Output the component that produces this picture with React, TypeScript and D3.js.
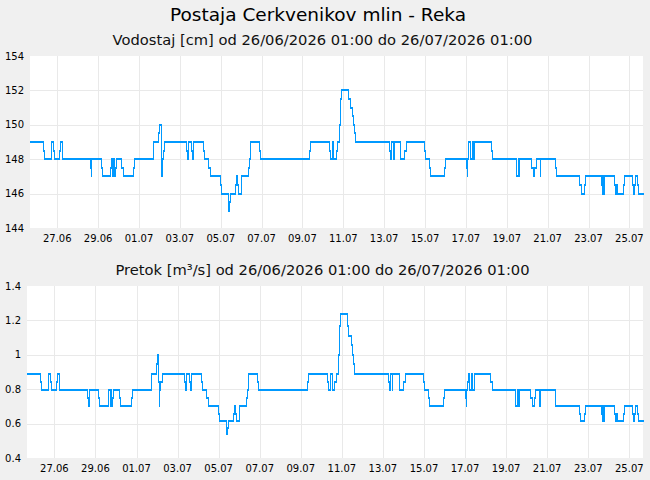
import { useEffect, useRef } from 'react';
import * as d3 from 'd3';

const TITLE = 'Postaja Cerkvenikov mlin - Reka';
const LEVEL_SUBTITLE = 'Vodostaj [cm] od 26/06/2026 01:00 do 26/07/2026 01:00';
const FLOW_SUBTITLE = 'Pretok [m³/s] od 26/06/2026 01:00 do 26/07/2026 01:00';

// hours since the first reading; each value holds until the next change
const changeHours = [
  0, 14.9, 16.1, 24.3, 25.0, 26.7, 27.8, 34.4, 35.6, 37.2,
  70.1, 71.3, 72.0, 83.4, 84.6, 94.3, 95.1, 96.7, 97.5, 98.3,
  99.5, 100.6, 107.2, 108.9, 121.3, 122.5, 144.8, 150.4, 151.9, 153.5,
  154.2, 154.7, 155.9, 157.8, 183.6, 184.8, 185.4, 189.1, 190.7, 191.8,
  203.6, 204.8, 209.1, 211.1, 223.5, 224.7, 232.2, 233.4, 234.6, 240.8,
  242.0, 243.5, 244.3, 247.5, 248.2, 256.1, 257.6, 258.8, 269.4, 270.5,
  327.7, 328.9, 350.9, 352.1, 354.4, 356.3, 359.4, 360.9, 363.2, 364.4,
  365.6, 373.8, 375.6, 378.3, 379.4, 381.0, 382.1, 422.1, 423.2, 424.1,
  426.4, 427.2, 434.6, 439.7, 441.3, 463.2, 464.4, 468.7, 470.2, 486.0,
  487.1, 512.2, 513.3, 513.7, 514.5, 514.9, 516.5, 518.9, 520.7, 521.9,
  541.5, 543.1, 570.6, 572.9, 573.6, 574.8, 588.5, 590.5, 592.4, 594.0,
  598.8, 599.5, 616.7, 617.5, 645.3, 646.9, 650.8, 652.0, 670.4, 671.6,
  672.3, 672.8, 674.0, 685.7, 687.2, 688.0, 689.9, 697.0, 698.1, 707.2,
  708.7, 709.8, 710.7, 713.0, 714.2,
];
const END_HOUR = 720;

const levelCm = [
  149, 148.5, 148, 148.5, 149, 148.5, 148, 148.5, 149, 148,
  147.5, 147, 148, 147.5, 147, 147.5, 148, 147, 148, 147,
  147.5, 148, 147.5, 147, 147.5, 148, 149, 149.5, 150, 148.5,
  147, 148, 148.5, 149, 148.5, 148, 149, 148.5, 148, 149,
  148.5, 148, 147.5, 147, 146.5, 146, 145, 145.5, 146, 146.5,
  147, 146.5, 146, 146.5, 147, 147.5, 148, 149, 148.5, 148,
  148.5, 149, 148.5, 148, 149, 148, 148.5, 149, 150, 151.5,
  152, 151.5, 151, 150.5, 150, 149.5, 149, 148.5, 148, 149,
  148, 149, 148, 148.5, 149, 148.5, 148, 147.5, 147, 147.5,
  148, 147.5, 147, 148, 148.5, 149, 148, 149, 148, 149,
  148.5, 148, 147, 148, 147, 148, 147.5, 147, 147.5, 148,
  147, 148, 147.5, 147, 146.5, 146, 146.5, 147, 146.5, 146,
  147, 146, 147, 146.5, 146, 146.5, 146, 146.5, 147, 146.5,
  146, 146.5, 147, 146.5, 146,
];

const flowM3s = [
  0.89, 0.84, 0.795, 0.84, 0.89, 0.84, 0.795, 0.84, 0.89, 0.795,
  0.75, 0.7, 0.795, 0.75, 0.7, 0.75, 0.795, 0.7, 0.795, 0.7,
  0.75, 0.795, 0.75, 0.7, 0.75, 0.795, 0.89, 0.945, 1.0, 0.84,
  0.7, 0.795, 0.84, 0.89, 0.84, 0.795, 0.89, 0.84, 0.795, 0.89,
  0.84, 0.795, 0.75, 0.7, 0.655, 0.615, 0.54, 0.575, 0.615, 0.655,
  0.7, 0.655, 0.615, 0.655, 0.7, 0.75, 0.795, 0.89, 0.84, 0.795,
  0.84, 0.89, 0.84, 0.795, 0.89, 0.795, 0.84, 0.89, 1.0, 1.17,
  1.235, 1.17, 1.11, 1.055, 1.0, 0.945, 0.89, 0.84, 0.795, 0.89,
  0.795, 0.89, 0.795, 0.84, 0.89, 0.84, 0.795, 0.75, 0.7, 0.75,
  0.795, 0.75, 0.7, 0.795, 0.84, 0.89, 0.795, 0.89, 0.795, 0.89,
  0.84, 0.795, 0.7, 0.795, 0.7, 0.795, 0.75, 0.7, 0.75, 0.795,
  0.7, 0.795, 0.75, 0.7, 0.655, 0.615, 0.655, 0.7, 0.655, 0.615,
  0.7, 0.615, 0.7, 0.655, 0.615, 0.655, 0.615, 0.655, 0.7, 0.655,
  0.615, 0.655, 0.7, 0.655, 0.615,
];

const levelTicks = [144, 146, 148, 150, 152, 154];
const flowTicks = [0.4, 0.6, 0.8, 1, 1.2, 1.4];

const T0 = Date.UTC(2026, 5, 25, 16);
const FONT = "'DejaVu Sans', sans-serif";
const LINE = '#0099ff';
const GRID = '#e9e9e9';

type Panel = {
  left: number;
  right: number;
  top: number;
  bottom: number;
  labelX: number;
  subtitle: string;
  subtitleY: number;
  ticks: number[];
  values: number[];
};

const hourToDate = (h: number) => new Date(T0 + h * 3600e3);

function drawPanel(svg: d3.Selection<SVGSVGElement, unknown, null, undefined>, p: Panel) {
  const x = d3.scaleUtc().domain([hourToDate(0), hourToDate(END_HOUR)]).range([p.left, p.right]);
  const y = d3.scaleLinear().domain(d3.extent(p.ticks) as [number, number]).range([p.bottom, p.top]);

  svg
    .append('text')
    .attr('x', 322.5)
    .attr('y', p.subtitleY)
    .attr('text-anchor', 'middle')
    .attr('font-size', 14.7)
    .attr('fill', '#111')
    .text(p.subtitle);

  svg
    .append('rect')
    .attr('x', p.left)
    .attr('y', p.top)
    .attr('width', p.right - p.left)
    .attr('height', p.bottom - p.top)
    .attr('fill', '#fff');

  const dayTicks = x.ticks(d3.utcDay.every(2)!);
  const g = svg.append('g');

  // grid
  g.selectAll('line.vg')
    .data(dayTicks)
    .join('line')
    .attr('x1', (d) => Math.round(x(d)) + 0.5)
    .attr('x2', (d) => Math.round(x(d)) + 0.5)
    .attr('y1', p.top)
    .attr('y2', p.bottom)
    .attr('stroke', GRID);
  g.selectAll('line.hg')
    .data(p.ticks.slice(1, -1))
    .join('line')
    .attr('x1', p.left)
    .attr('x2', p.right)
    .attr('y1', (d) => Math.round(y(d)) + 0.5)
    .attr('y2', (d) => Math.round(y(d)) + 0.5)
    .attr('stroke', GRID);

  // tick labels
  svg
    .append('g')
    .selectAll('text')
    .data(p.ticks)
    .join('text')
    .attr('x', p.labelX)
    .attr('y', (d) => y(d))
    .attr('dy', '0.36em')
    .attr('text-anchor', 'end')
    .attr('font-size', 10)
    .text((d) => String(+d.toFixed(1)));

  svg
    .append('g')
    .selectAll('text')
    .data(dayTicks)
    .join('text')
    .attr('x', (d) => x(d))
    .attr('y', p.bottom + 13.5)
    .attr('text-anchor', 'middle')
    .attr('font-size', 10)
    .text((d) => d3.utcFormat('%d.%m')(d));

  // step line: flat parts drawn heavier than the risers
  const xs = changeHours.map((h) => Math.round(x(hourToDate(h))));
  xs.push(Math.round(x(hourToDate(END_HOUR))));
  const ys = p.values.map((v) => Math.round(y(v)));

  let flat = '';
  let risers = '';
  ys.forEach((yy, i) => {
    flat += `M${xs[i]},${yy}H${xs[i + 1] + 1}`;
    if (i < ys.length - 1) risers += `M${xs[i + 1] + 0.5},${yy}V${ys[i + 1]}`;
  });

  svg.append('path').attr('d', risers).attr('fill', 'none').attr('stroke', LINE).attr('stroke-width', 1);
  svg.append('path').attr('d', flat).attr('fill', 'none').attr('stroke', LINE).attr('stroke-width', 2);
}

export default function App() {
  const ref = useRef<SVGSVGElement>(null);

  useEffect(() => {
    if (!ref.current) return;
    const svg = d3.select(ref.current);
    svg.selectAll('*').remove();
    svg.attr('font-family', FONT);

    svg.append('rect').attr('width', 650).attr('height', 480).attr('fill', '#f0f0f0');

    svg
      .append('text')
      .attr('x', 318)
      .attr('y', 21)
      .attr('text-anchor', 'middle')
      .attr('font-size', 18.5)
      .attr('fill', '#000')
      .text(TITLE);

    drawPanel(svg, {
      left: 30,
      right: 643,
      top: 56,
      bottom: 228,
      labelX: 24,
      subtitle: LEVEL_SUBTITLE,
      subtitleY: 45,
      ticks: levelTicks,
      values: levelCm,
    });

    drawPanel(svg, {
      left: 27,
      right: 643,
      top: 286,
      bottom: 458,
      labelX: 21,
      subtitle: FLOW_SUBTITLE,
      subtitleY: 275,
      ticks: flowTicks,
      values: flowM3s,
    });
  }, []);

  return (
    <svg
      ref={ref}
      width={650}
      height={480}
      style={{ position: 'absolute', left: 0, top: 0, display: 'block' }}
    />
  );
}
